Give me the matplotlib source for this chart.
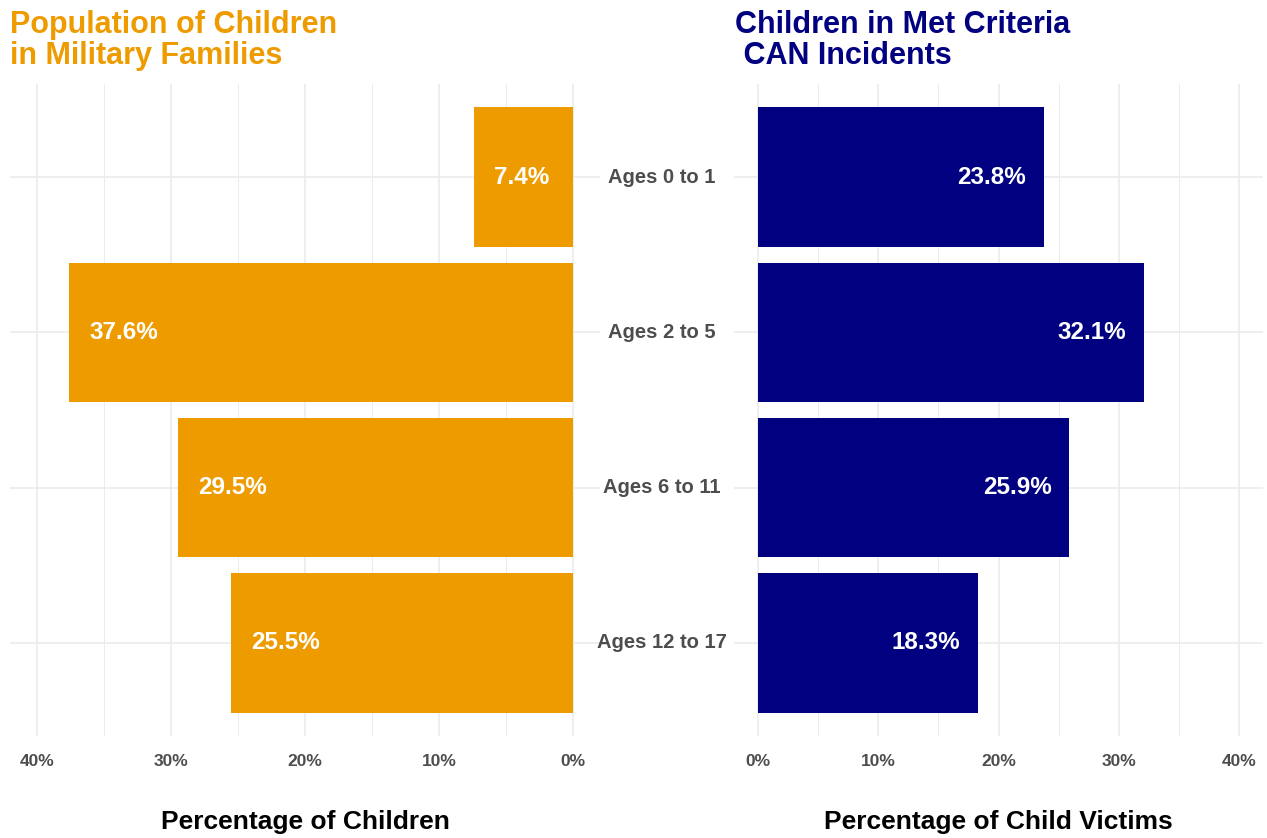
import matplotlib
matplotlib.use("Agg")
import matplotlib.pyplot as plt
import matplotlib.transforms as mtransforms
import numpy as np

plt.rcParams['font.family'] = ['Liberation Sans', 'DejaVu Sans']

age_groups = ["Ages 0 to 1", "Ages 2 to 5", "Ages 6 to 11", "Ages 12 to 17"]
population_pct = [7.4, 37.6, 29.5, 25.5]
victims_pct = [23.8, 32.1, 25.9, 18.3]
ticks = [0, 10, 20, 30, 40]
tick_labels = ["0%", "10%", "20%", "30%", "40%"]

orange = "#EE9B00"
navy = "#000080"
grid_col = "#EBEBEB"
W, H = 1267, 838

fig = plt.figure(figsize=(12.67, 8.38), dpi=100)
fig.patch.set_facecolor("white")

bottom = 1 - 736 / H
height = (736 - 84) / H
ax1 = fig.add_axes([10 / W, bottom, 590 / W, height])
ax2 = fig.add_axes([734 / W, bottom, 529 / W, height])

ypos = np.arange(len(age_groups))


def style_panel(ax, values, color, xlim, align):
    ax.barh(ypos, values, height=0.9, color=color, zorder=2)
    ax.set_xlim(*xlim)
    ax.set_ylim(len(age_groups) - 0.4, -0.6)
    ax.set_xticks(ticks)
    ax.set_xticks([5, 15, 25, 35], minor=True)
    ax.set_xticklabels(tick_labels, fontsize=12.5, fontweight="bold", color="#4D4D4D")
    ax.set_yticks(ypos)
    ax.set_yticklabels([])
    ax.tick_params(axis="both", which="both", length=0, pad=13)
    ax.grid(True, which="major", color=grid_col, linewidth=1.2, zorder=0)
    ax.grid(True, which="minor", axis="x", color=grid_col, linewidth=0.7, zorder=0)
    ax.set_axisbelow(True)
    for s in ax.spines.values():
        s.set_visible(False)
    # labels sit just inside the bar end, running toward zero
    for y, v in zip(ypos, values):
        ax.text(v - 1.5, y, f"{v}%", ha=align, va="center", color="white",
                fontsize=17.5, fontweight="bold", zorder=3)


style_panel(ax1, population_pct, orange, (42, -2), "left")
style_panel(ax2, victims_pct, navy, (-2, 42), "right")

ax1.set_xlabel("Percentage of Children", fontsize=19, fontweight="bold",
               color="black", labelpad=29.5)
ax2.set_xlabel("Percentage of Child Victims", fontsize=19, fontweight="bold",
               color="black", labelpad=29.5)

# category labels between panels
trans = mtransforms.blended_transform_factory(fig.transFigure, ax2.transData)
for y, lab in zip(ypos, age_groups):
    fig.text(662 / W, y, lab, transform=trans, ha="center", va="center",
             fontsize=14.5, fontweight="bold", color="#4D4D4D")

fig.text(10 / W, 1 - 10 / H, "Population of Children\nin Military Families",
         ha="left", va="top", fontsize=22, fontweight="bold", color=orange,
         linespacing=1.05)
fig.text(735 / W, 1 - 10 / H, "Children in Met Criteria\n CAN Incidents",
         ha="left", va="top", fontsize=22, fontweight="bold", color=navy,
         linespacing=1.05)

fig.savefig("out.png", dpi=100, facecolor="white")
